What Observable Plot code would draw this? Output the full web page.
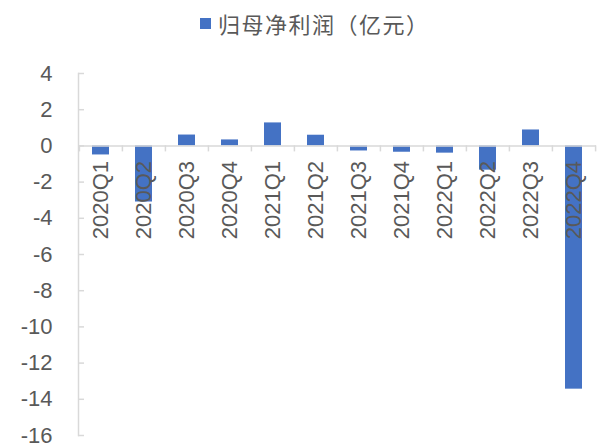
<!DOCTYPE html>
<html>
<head>
<meta charset="utf-8">
<script src="https://cdn.jsdelivr.net/npm/d3@7"></script>
<script src="https://cdn.jsdelivr.net/npm/@observablehq/plot@0.6"></script>
<style>
  html, body { margin: 0; padding: 0; background: #fff; }
  #legend { height: 46px; display: flex; align-items: center; padding-left: 200px; box-sizing: border-box;
    font-family: "Noto Sans CJK SC", sans-serif; font-size: 22px; color: #595959; letter-spacing: 1.5px; }
  #legend .sw { width: 11px; height: 11px; background: #4472C4; margin-right: 7px; }
  #chart svg { display: block; }
</style>
</head>
<body>
<div id="legend"><span class="sw"></span><span>归母净利润（亿元）</span></div>
<div id="chart"></div>
<script>
const quarters = ["2020Q1","2020Q2","2020Q3","2020Q4","2021Q1","2021Q2","2021Q3","2021Q4","2022Q1","2022Q2","2022Q3","2022Q4"];
const profit = [-0.5, -3.1, 0.6, 0.33, 1.27, 0.59, -0.28, -0.35, -0.4, -1.34, 0.88, -13.44];
const yTicks = [4, 2, 0, -2, -4, -6, -8, -10, -12, -14, -16];

const data = quarters.map((q, i) => ({q, v: profit[i]}));

const W = 603, H = 402, mL = 78, mR = 7;
const step = (W - mL - mR) / quarters.length;

const chart = Plot.plot({
  width: W,
  height: H,
  marginTop: 27,
  marginBottom: 13,
  marginLeft: mL,
  marginRight: mR,
  style: {fontFamily: "'Liberation Sans', Arial, sans-serif", background: "#fff"},
  x: {domain: quarters, paddingInner: 0.6, paddingOuter: 0.3, axis: null},
  y: {domain: [-16, 4], axis: null},
  marks: [
    Plot.frame({anchor: "left", stroke: "#d9d9d9", strokeWidth: 1.5}),
    Plot.axisY({ticks: yTicks, tickSize: -6, tickPadding: 32, tickFormat: d => String(d), label: null,
      fontSize: 22, stroke: "#d9d9d9", fill: "#595959", strokeWidth: 1.5}),
    Plot.ruleX(quarters, {x: d => d, y1: () => 0, y2: () => 0, insetBottom: -6, dx: -step / 2,
      stroke: "#d9d9d9", strokeWidth: 1.5}),
    Plot.ruleX(quarters.slice(-1), {x: d => d, y1: () => 0, y2: () => 0, insetBottom: -6, dx: step / 2,
      stroke: "#d9d9d9", strokeWidth: 1.5}),
    Plot.barY(data, {x: "q", y: "v", fill: "#4472C4"}),
    Plot.ruleY([0], {stroke: "#d9d9d9", strokeWidth: 1.5}),
    Plot.text(quarters, {x: d => d, y: () => 0, text: d => d, rotate: -90, textAnchor: "end",
      dy: 15, fontSize: 22, fill: "#595959"})
  ]
});
document.getElementById("chart").appendChild(chart);
</script>
</body>
</html>
